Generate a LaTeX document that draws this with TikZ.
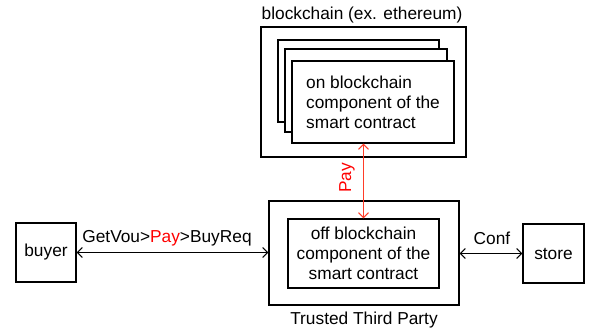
\documentclass[tikz,border=0pt]{standalone}
\usepackage{fontspec}
\setmainfont{Liberation Sans}
\usetikzlibrary{arrows.meta}
\definecolor{payred}{RGB}{255,0,0}
\definecolor{arrred}{RGB}{255,60,40}
\begin{document}
\begin{tikzpicture}[x=1pt,y=-1pt, font=\fontsize{17.3}{20}\selectfont,
  box/.style={draw, line width=1.1pt, inner sep=0pt, fill=white},
  lbl/.style={inner sep=0pt},
  biarrow/.style={{Straight Barb[length=5pt,width=10pt]}-{Straight Barb[length=5pt,width=10pt]}, line width=1.1pt}]
\useasboundingbox (0,0) rectangle (589,333);
% blockchain
\node[box, minimum width=205pt, minimum height=130pt] (bc) at (363.5,92) {};
\node[lbl] (bctitle) at (362,15) {blockchain (ex. ethereum)};
\node[box, minimum width=161pt, minimum height=82pt] (back) at (358.5,81) {};
\node[box, minimum width=162pt, minimum height=83pt] (mid) at (366,90.5) {};
\node[box, minimum width=162pt, minimum height=82pt] (front) at (373,102) {};
\node[lbl, align=left, anchor=west] (fronttext) at (306,102) {on blockchain\\component of the\\smart contract};
% trusted third party
\node[box, minimum width=190pt, minimum height=104pt] (ttp) at (364,253) {};
\node[box, minimum width=151pt, minimum height=69pt, align=center] (off) at (363.5,253.5) {off blockchain\\component of the\\smart contract};
\node[lbl] (ttplabel) at (364,320) {Trusted Third Party};
% buyer, store
\node[box, minimum width=60pt, minimum height=59pt] (buyer) at (46,252.5) {buyer};
\node[box, minimum width=61pt, minimum height=59pt] (store) at (553.5,253.5) {store};
% connectors
\draw[biarrow] (buyer.east) -- (buyer.east -| ttp.west);
\node[lbl] (getvou) at (167,238) {GetVou>\textcolor{payred}{Pay}>BuyReq};
\draw[biarrow] (ttp.east |- store.west) -- (store.west);
\node[lbl] (conf) at (492,238) {Conf};
\draw[biarrow, draw=arrred] (off.north) -- (off.north |- front.south);
\node[lbl, rotate=90, text=payred] (pay) at (347,178) {Pay};
\end{tikzpicture}
\end{document}
